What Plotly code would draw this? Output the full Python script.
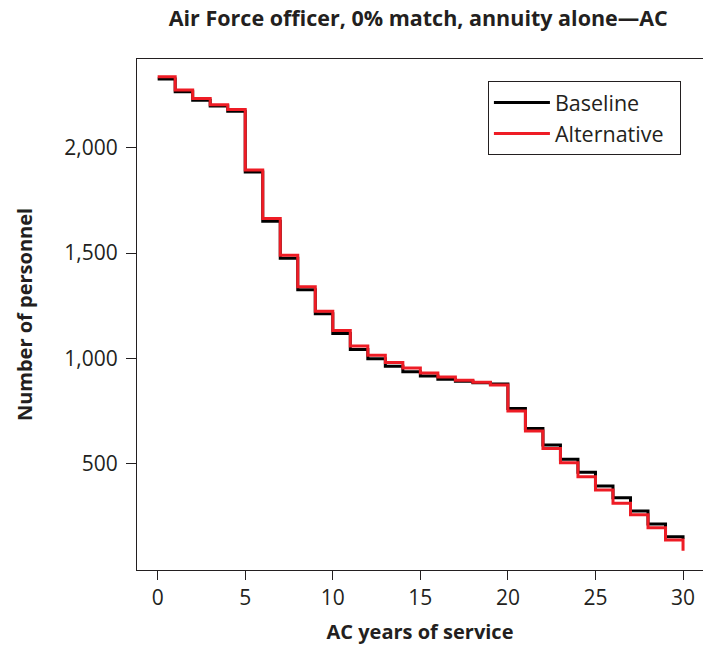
import plotly.graph_objects as go

# AC years of service (value at year t holds until t+1)
years = list(range(0, 31))

baseline = [2328, 2267, 2227, 2199, 2175, 1886, 1651, 1476, 1326, 1212,
            1118, 1041, 998, 962, 936, 915, 900, 890, 884, 878,
            761, 666, 587, 520, 458, 393, 336, 273, 212, 151, 140]

alternative = [2338, 2275, 2235, 2206, 2183, 1895, 1664, 1490, 1340, 1224,
               1132, 1058, 1014, 980, 954, 930, 911, 895, 886, 873,
               749, 654, 571, 503, 436, 373, 310, 256, 194, 136, 85]

x_ticks = [0, 5, 10, 15, 20, 25, 30]
y_ticks = [500, 1000, 1500, 2000]
y_tick_labels = ["500", "1,000", "1,500", "2,000"]

FONT = "Open Sans"
AXIS_COLOR = "#231f20"

fig = go.Figure()
fig.add_trace(go.Scatter(x=years, y=baseline, mode="lines", name="Baseline",
                         line=dict(color="#000000", width=3, shape="hv"),
                         legendgroup="b"))
fig.add_trace(go.Scatter(x=years, y=alternative, mode="lines",
                         name="Alternative&nbsp;&nbsp;",
                         line=dict(color="#ee1c25", width=3, shape="hv"),
                         legendgroup="a"))

fig.update_layout(
    width=703, height=649,
    margin=dict(l=137, r=0, t=59, b=79),
    paper_bgcolor="white", plot_bgcolor="white",
    font=dict(family=FONT, size=21, color=AXIS_COLOR),
    title=dict(text="<b>Air Force officer, 0% match, annuity alone\u2014AC</b>",
               x=0.595, xanchor="center", y=0.972, yanchor="middle",
               font=dict(size=21.5, color=AXIS_COLOR)),
    legend=dict(x=0.62, y=0.957, xanchor="left", yanchor="top",
                bordercolor=AXIS_COLOR, borderwidth=1, bgcolor="white",
                font=dict(size=21.5), tracegroupgap=0, itemwidth=56),
    showlegend=True,
)

fig.update_xaxes(
    range=[-1.18, 31.14], tickvals=x_ticks, showgrid=False, zeroline=False,
    showline=True, linecolor=AXIS_COLOR, linewidth=1, mirror=True,
    ticks="outside", ticklen=9, tickcolor=AXIS_COLOR, automargin=False,
    title=dict(text="<b>AC years of service</b>", font=dict(size=20), standoff=14),
)
fig.update_yaxes(
    range=[-7, 2423], tickvals=y_ticks, ticktext=y_tick_labels,
    showgrid=False, zeroline=False, automargin=False,
    showline=True, linecolor=AXIS_COLOR, linewidth=1,
    ticks="outside", ticklen=10, tickcolor=AXIS_COLOR, ticklabelstandoff=4,
    title=dict(text="<b>Number of personnel</b>", font=dict(size=20), standoff=26),
)

# drop the default page margin so the figure fills the window
fig.write_html("out.html", config={"displayModeBar": False},
               post_script="document.body.style.margin='0';document.body.style.overflow='hidden';")
